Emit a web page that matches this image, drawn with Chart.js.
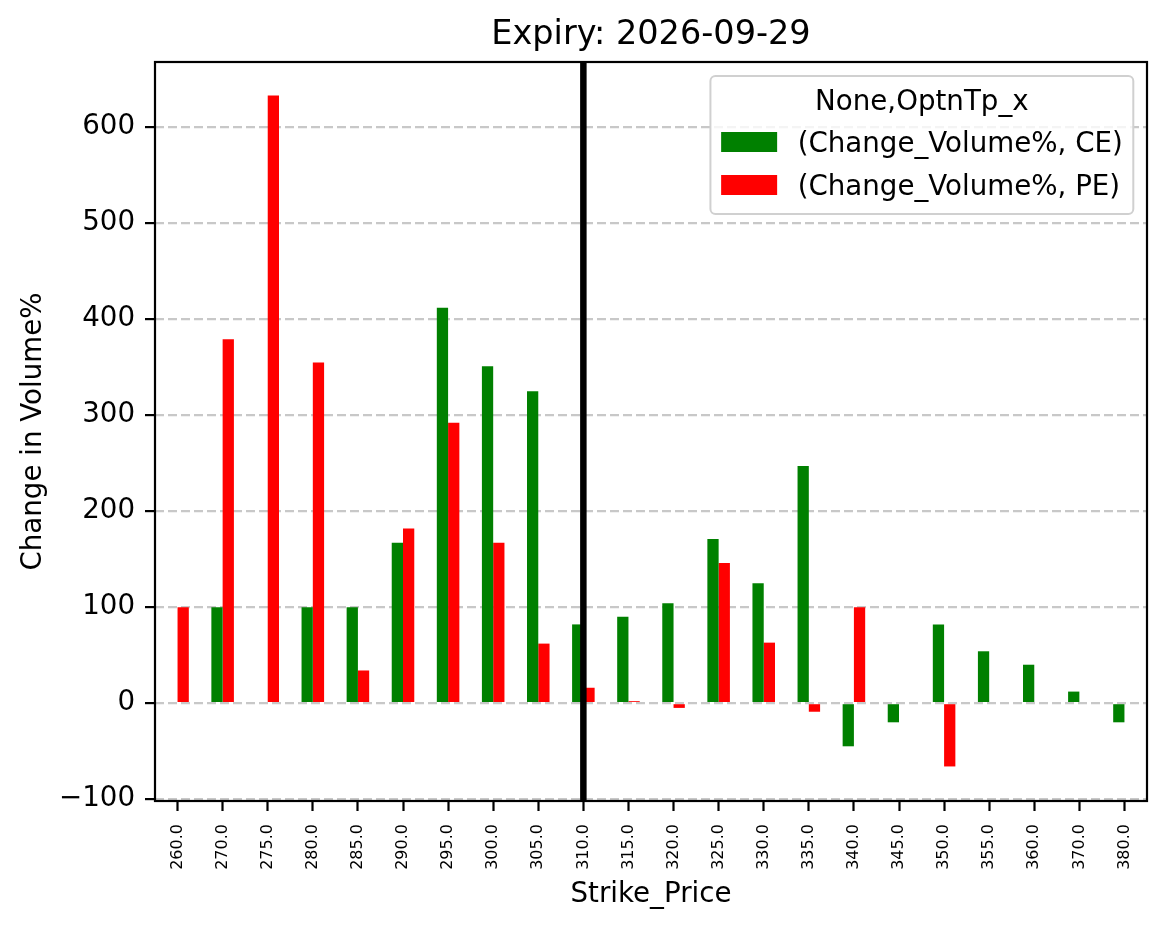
<!DOCTYPE html>
<html>
<head>
<meta charset="utf-8">
<script src="https://cdn.jsdelivr.net/npm/chart.js@4/dist/chart.umd.min.js"></script>
<style>
  html, body { margin: 0; padding: 0; background: #ffffff; }
  #wrap { width: 1166px; height: 928px; position: relative; }
</style>
</head>
<body>
<div id="wrap"><canvas id="c"></canvas></div>
<script>
const categories = ['260.0','270.0','275.0','280.0','285.0','290.0','295.0','300.0','305.0','310.0','315.0',
  '320.0','325.0','330.0','335.0','340.0','345.0','350.0','355.0','360.0','370.0','380.0'];
const ceValues = [null, 100, null, 100, 100, 167, 412, 351, 325, 82, 90,
  104, 171, 125, 247, -45, -20, 82, 54, 40, 12, -20];
const peValues = [100, 379, 633, 355, 34, 182, 292, 167, 62, 16, 2,
  -5, 146, 63, -9, 100, null, -66, null, null, null, null];
const yTickValues = [-100, 0, 100, 200, 300, 400, 500, 600];
const seriesLabels = ['(Change_Volume%, CE)', '(Change_Volume%, PE)'];
const legendTitle = 'None,OptnTp_x';
const chartTitle = 'Expiry: 2026-09-29';
const markerCategory = '310.0';

const FONT = '"DejaVu Sans", "Liberation Sans", sans-serif';

const overlayPlugin = {
  id: 'overlay',
  afterDatasetsDraw(chart) {
    const ctx = chart.ctx;
    const a = chart.chartArea;
    const xs = chart.scales.x;
    const idx = categories.indexOf(markerCategory);
    const px = xs.getPixelForValue(idx);
    ctx.save();
    ctx.strokeStyle = '#000000';
    ctx.lineWidth = 6.5;
    ctx.beginPath();
    ctx.moveTo(px, a.top);
    ctx.lineTo(px, a.bottom);
    ctx.stroke();
    ctx.lineWidth = 2.2;
    ctx.strokeRect(a.left, a.top, a.right - a.left, a.bottom - a.top);
    ctx.restore();
  },
  afterDraw(chart) {
    const ctx = chart.ctx;
    const a = chart.chartArea;
    ctx.save();
    ctx.font = '27.7px ' + FONT;
    const tw = Math.max(...seriesLabels.map(s => ctx.measureText(s).width));
    const right = a.right - 13.7;
    const top = a.top + 14;
    const w = 10.7 + 56 + 20.5 + tw + 10.5;
    const left = right - w;
    const h = 138;
    const r = 5;
    ctx.beginPath();
    ctx.moveTo(left + r, top);
    ctx.lineTo(right - r, top);
    ctx.arcTo(right, top, right, top + r, r);
    ctx.lineTo(right, top + h - r);
    ctx.arcTo(right, top + h, right - r, top + h, r);
    ctx.lineTo(left + r, top + h);
    ctx.arcTo(left, top + h, left, top + h - r, r);
    ctx.lineTo(left, top + r);
    ctx.arcTo(left, top, left + r, top, r);
    ctx.closePath();
    ctx.fillStyle = 'rgba(255,255,255,0.8)';
    ctx.fill();
    ctx.strokeStyle = '#d0d0d0';
    ctx.lineWidth = 2;
    ctx.stroke();
    ctx.fillStyle = '#000000';
    ctx.textBaseline = 'alphabetic';
    ctx.textAlign = 'center';
    ctx.font = '27.7px ' + FONT;
    ctx.fillText(legendTitle, (left + right) / 2, top + 34);
    ctx.textAlign = 'left';
    const colors = chart.data.datasets.map(d => d.backgroundColor);
    const baselines = [top + 75.7, top + 118.5];
    const patchTops = [top + 56, top + 99];
    for (let i = 0; i < seriesLabels.length; i++) {
      ctx.fillStyle = colors[i];
      ctx.fillRect(left + 10.7, patchTops[i], 56, 20);
      ctx.fillStyle = '#000000';
      ctx.fillText(seriesLabels[i], left + 10.7 + 56 + 20.5, baselines[i]);
    }
    ctx.restore();
  }
};

new Chart(document.getElementById('c'), {
  type: 'bar',
  data: {
    labels: categories,
    datasets: [
      { label: seriesLabels[0], data: ceValues, backgroundColor: '#008000', borderWidth: 0,
        categoryPercentage: 0.5, barPercentage: 1.0 },
      { label: seriesLabels[1], data: peValues, backgroundColor: '#ff0000', borderWidth: 0,
        categoryPercentage: 0.5, barPercentage: 1.0 }
    ]
  },
  options: {
    responsive: true,
    maintainAspectRatio: false,
    animation: false,
    devicePixelRatio: 1,
    layout: { padding: { top: 0, right: 19, bottom: 0, left: 0 } },
    plugins: {
      legend: { display: false },
      tooltip: { enabled: false },
      title: {
        display: true,
        text: chartTitle,
        fullSize: false,
        color: '#000000',
        font: { family: FONT, size: 33.5, weight: 'normal', lineHeight: 1.2 },
        padding: { top: 15, bottom: 6.8 }
      }
    },
    scales: {
      x: {
        type: 'category',
        offset: true,
        afterFit(scale) { scale.height = 127; },
        grid: {
          display: true, drawOnChartArea: false, drawTicks: true, offset: false,
          tickLength: 10, tickColor: '#000000', tickWidth: 2.2
        },
        border: { display: false },
        ticks: {
          autoSkip: false, minRotation: 90, maxRotation: 90, padding: 13,
          color: '#000000', font: { family: FONT, size: 16 }
        },
        title: {
          display: true, text: 'Strike_Price', color: '#000000',
          font: { family: FONT, size: 27.7 }, padding: { top: 0, bottom: 17 }
        }
      },
      y: {
        min: -102,
        max: 668,
        afterFit(scale) { scale.width = 155; },
        afterBuildTicks(scale) { scale.ticks = yTickValues.map(v => ({ value: v })); },
        grid: {
          display: true, drawOnChartArea: true, drawTicks: true,
          color: 'rgba(176,176,176,0.7)', lineWidth: 2.2,
          tickLength: 10, tickColor: '#000000', tickWidth: 2.2, tickBorderDash: []
        },
        border: { display: false, dash: [9, 4] },
        ticks: {
          padding: 10, color: '#000000', font: { family: FONT, size: 27.7 },
          callback: (v) => (v < 0 ? '\u2212' + Math.abs(v) : String(v))
        },
        title: {
          display: true, text: 'Change in Volume%', color: '#000000',
          font: { family: FONT, size: 27.7 }, padding: { top: 17, bottom: 0 }
        }
      }
    }
  },
  plugins: [overlayPlugin]
});
</script>
</body>
</html>
